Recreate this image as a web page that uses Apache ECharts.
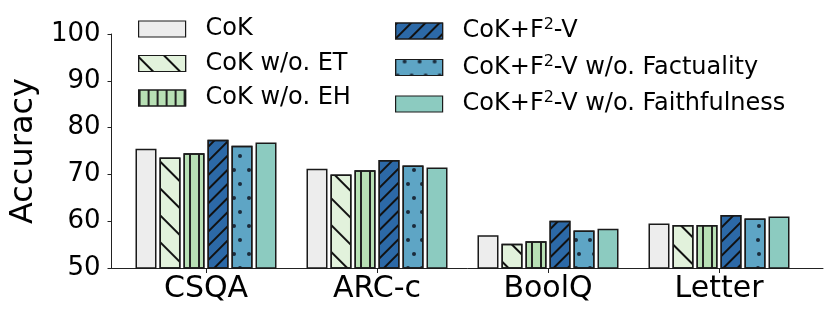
<!DOCTYPE html>
<html><head><meta charset="utf-8">
<script src="https://cdn.jsdelivr.net/npm/echarts@6/dist/echarts.min.js"></script>
<style>html,body{margin:0;padding:0;background:#fff}#c{width:830px;height:312px}</style>
</head><body><div id="c"></div>
<script>
const categories = ['CSQA', 'ARC-c', 'BoolQ', 'Letter'];
const seriesNames = ['CoK', 'CoK w/o. ET', 'CoK w/o. EH', 'CoK+F²-V', 'CoK+F²-V w/o. Factuality', 'CoK+F²-V w/o. Faithfulness'];
const cok          = [75.5, 71.2, 57.0, 59.5];
const cokNoET      = [73.6, 70.0, 55.2, 59.2];
const cokNoEH      = [74.5, 70.9, 55.7, 59.2];
const cokF2V       = [77.4, 73.1, 60.1, 61.3];
const cokF2VNoFact = [76.1, 71.9, 58.0, 60.6];
const cokF2VNoFaith= [76.8, 71.5, 58.4, 61.0];
const yTicks = [50, 60, 70, 80, 90, 100];

const values = [cok, cokNoET, cokNoEH, cokF2V, cokF2VNoFact, cokF2VNoFaith];
const fills = ['#ededed', '#e2f2dc', '#b8e0b5', '#2c69a7', '#5ea5c5', '#8ccbc0'];
const decals = [
  null,
  {symbol:'rect', symbolSize:1, color:'#111', dashArrayX:[1,0], dashArrayY:[1.4,17], rotation:Math.PI/4},
  {symbol:'rect', symbolSize:1, color:'#222', dashArrayX:[1.3,6.2], dashArrayY:[1,0], rotation:0},
  {symbol:'rect', symbolSize:1, color:'#111', dashArrayX:[1,0], dashArrayY:[1.4,7.2], rotation:-Math.PI/4},
  {symbol:'circle', symbolSize:1, color:'#1b2b3b', dashArrayX:[[3.3,9.7],[0,6.5,3.3,3.2]], dashArrayY:[3.3,9.6], rotation:0},
  null
];
const FONT = 'DejaVu Sans';
const series = seriesNames.map((n, i) => {
  const s = {
    name: n, type: 'bar', xAxisIndex: 0, yAxisIndex: 0,
    data: values[i], barWidth: 21, barGap: '14.3%',
    itemStyle: {color: fills[i], borderColor: '#1a1a1a', borderWidth: 1.5},
    emphasis: {disabled: true}, animation: false
  };
  if (decals[i]) s.itemStyle.decal = decals[i];
  return s;
});
const legendCommon = {
  orient: 'vertical', itemWidth: 47, itemHeight: 16, itemGap: 10.5, top: 17, padding: 0,
  icon: 'rect', selectedMode: false,
  formatter: n => n.replace('²', '{sup|2}'),
  textStyle: {fontFamily: FONT, fontSize: 24, color: '#000', lineHeight: 24, padding: [0,0,0,15],
    rich: {sup: {fontFamily: FONT, fontSize: 16, color: '#000', padding: [0,0,12,0]}}},
  itemStyle: {borderColor: '#1a1a1a', borderWidth: 1.2}
};
const chart = echarts.init(document.getElementById('c'), null, {renderer: 'canvas'});
chart.setOption({
  animation: false,
  grid: [
    {left: 120.5, right: 25.5, top: 34, bottom: 44},
    {left: 101, right: 7, top: 34, bottom: 44}
  ],
  legend: [
    Object.assign({}, legendCommon, {left: 138, data: seriesNames.slice(0, 3)}),
    Object.assign({}, legendCommon, {left: 395, data: seriesNames.slice(3)})
  ],
  xAxis: [
    {type: 'category', gridIndex: 0, data: categories,
     axisLine: {show: false},
     axisTick: {show: true, alignWithLabel: true, length: 5, lineStyle: {color: '#222', width: 1}},
     axisLabel: {fontFamily: FONT, fontSize: 30, color: '#000', margin: 6}},
    {type: 'value', gridIndex: 1, min: 0, max: 1, show: true,
     axisLine: {show: true, lineStyle: {color: '#222', width: 1}},
     axisTick: {show: false}, axisLabel: {show: false}, splitLine: {show: false}}
  ],
  yAxis: [
    {type: 'value', gridIndex: 0, min: 50, max: 100, interval: 10, show: false, splitLine: {show: false}},
    {type: 'value', gridIndex: 1, min: yTicks[0], max: yTicks[yTicks.length-1], interval: 10,
     name: 'Accuracy', nameLocation: 'middle', nameGap: 58,
     nameTextStyle: {fontFamily: FONT, fontSize: 32, color: '#000'},
     axisLine: {show: true, lineStyle: {color: '#222', width: 1}},
     axisTick: {show: true, length: 4, lineStyle: {color: '#222'}},
     axisLabel: {fontFamily: FONT, fontSize: 26, color: '#000', margin: 11},
     splitLine: {show: false}}
  ],
  series: series
});
</script></body></html>
